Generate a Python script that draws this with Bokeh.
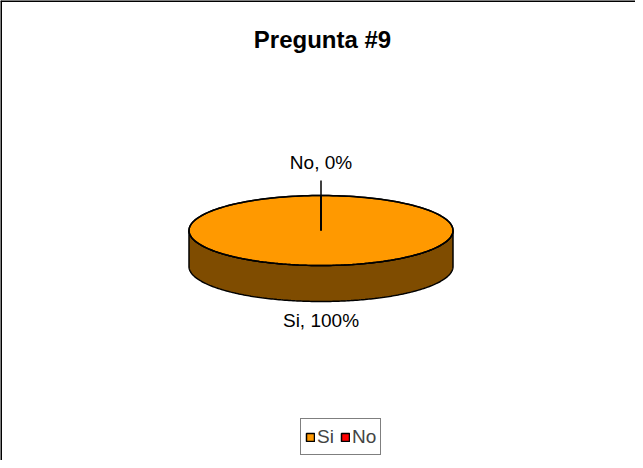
import numpy as np
from bokeh.plotting import figure
from bokeh.models import Legend, LegendItem, Span
from bokeh.core.properties import value
from bokeh.embed import file_html
from bokeh.resources import INLINE

# ---- data ----
title = "Pregunta #9"
categories = ["Si", "No"]
values = [100, 0]
colors = ["#FF9900", "#FF0000"]
side_colors = ["#7F4C00", "#7F0000"]

W, H = 635, 460
p = figure(width=W, height=H, x_range=(0, W), y_range=(0, H),
           output_backend="svg", toolbar_location=None,
           min_border=0, outline_line_color=None,
           background_fill_color="white", border_fill_color="white")
p.axis.visible = False
p.grid.visible = False

FONT = "Liberation Sans"

# border (left and top edges visible in reference)
p.add_layout(Span(location=0.5, dimension="height", line_color="black", line_width=2))
p.add_layout(Span(location=H - 0.5, dimension="width", line_color="black", line_width=2))

# title
p.text(x=[322], y=[421], text=[title], text_font=value(FONT), text_font_size="24px",
       text_font_style="bold", text_align="center", text_baseline="middle", text_color="black")

# ---- 3D pie geometry ----
cx, cy, rx, ry, depth = 320.5, 230.0, 132.0, 35.0, 36.0
total = float(sum(values))
fracs = [v / total for v in values]
cum = np.concatenate([[0.0], np.cumsum(fracs)])
# Excel style: start at 12 o'clock, clockwise
starts = 90.0 - cum[:-1] * 360.0
ends = 90.0 - cum[1:] * 360.0

def arc(a0, a1, yc, n=200):
    t = np.radians(np.linspace(a0, a1, n))
    return cx + rx * np.cos(t), yc + ry * np.sin(t)

# side faces (front half: angles in [-180, 0] modulo 360)
for i in range(len(values)):
    a_hi, a_lo = starts[i], ends[i]
    for k in (0.0, -360.0):
        lo = max(a_lo, -180.0 + k)
        hi = min(a_hi, 0.0 + k)
        if hi - lo <= 0:
            continue
        tx, ty = arc(hi, lo, cy)
        bx, by = arc(lo, hi, cy - depth)
        xs = list(tx) + list(bx)
        ys = list(ty) + list(by)
        p.patch(xs, ys, fill_color=side_colors[i], line_color="black", line_width=1.5)

# top wedges
renderers = []
for i in range(len(values)):
    ax_, ay_ = arc(starts[i], ends[i], cy)
    xs = [cx] + list(ax_) + [cx]
    ys = [cy] + list(ay_) + [cy]
    r = p.patch(xs, ys, fill_color=colors[i], line_color="black", line_width=1.5)
    renderers.append(r)

# outline of top ellipse
ox, oy = arc(0, 360, cy)
p.line(ox, oy, line_color="black", line_width=1.5)

# labels and leader lines
for i in range(len(values)):
    mid = np.radians((starts[i] + ends[i]) / 2.0)
    s = np.sin(mid)
    label = f"{categories[i]}, {values[i]:.0f}%"
    if s >= 0:
        lx = cx + (rx + 33) * np.cos(mid)
        ly = cy + (ry + 33) * s
        ex = cx + (rx + 15) * np.cos(mid)
        ey = cy + (ry + 15) * s
        if values[i] == 0:
            p.line([cx, ex], [cy, ey], line_color="black", line_width=1.5)
    else:
        lx = cx + (rx + 19) * np.cos(mid)
        ly = cy + (ry + depth + 19) * s
    p.text(x=[lx], y=[ly], text=[label], text_font=value(FONT), text_font_size="19px",
           text_align="center", text_baseline="middle", text_color="black")

# legend
items = [LegendItem(label=categories[i], renderers=[renderers[i]]) for i in range(len(values))]
legend = Legend(items=items, orientation="horizontal", location=(300, 5),
                label_text_font=FONT, label_text_font_size="19px",
                glyph_width=10, glyph_height=10, label_standoff=2, spacing=3,
                padding=4, margin=0, border_line_color="black", border_line_width=1.5,
                background_fill_alpha=1.0, label_height=27)
p.add_layout(legend, "center")

open("out.html", "w").write(file_html(p, INLINE))
